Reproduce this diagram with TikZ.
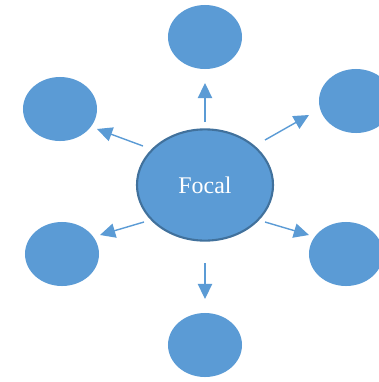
\documentclass[tikz,border=0pt]{standalone}
\usepackage{fontspec}
\setmainfont{Liberation Serif}
\usetikzlibrary{shapes.geometric,arrows.meta}

\definecolor{bubblefill}{HTML}{5B9BD5}
\definecolor{bubbleedge}{HTML}{41719C}

\tikzset{
	bubble/.style={ellipse, fill=bubblefill, inner sep=0pt,
		minimum width=1.85cm, minimum height=1.6cm},
	focalbubble/.style={ellipse, fill=bubblefill, draw=bubbleedge,
		line width=1.5pt, inner sep=0pt,
		minimum width=3.4cm, minimum height=2.78cm,
		text=white, font=\fontsize{17}{20}\selectfont},
	spoke/.style={-{Triangle[length=3.8mm, width=3.6mm]},
		line width=1pt, draw=bubblefill}
}

\begin{document}
\begin{tikzpicture}[x=0.025cm, y=-0.025cm]
	\useasboundingbox (0,0) rectangle (379,382);

	%% Bubbles
	\node[focalbubble] (focal) at (205,185) {Focal};
	\node[bubble] (top)    at (205,37)  {};
	\node[bubble] (bottom) at (205,345) {};
	\node[bubble] (ul)     at (60,109)  {};
	\node[bubble] (ur)     at (356,101) {};
	\node[bubble] (ll)     at (62,254)  {};
	\node[bubble] (lr)     at (346,254) {};

	%% Arrow ends
	\coordinate[](t1) at (205,122);
	\coordinate[](t2) at (205,83);
	\coordinate[](b1) at (205,263);
	\coordinate[](b2) at (205,299);
	\coordinate[](ul1) at (143,146);
	\coordinate[](ul2) at (97,129);
	\coordinate[](ur1) at (265,140);
	\coordinate[](ur2) at (309,115);
	\coordinate[](ll1) at (144,222);
	\coordinate[](ll2) at (100,235);
	\coordinate[](lr1) at (265,222);
	\coordinate[](lr2) at (309,235);

	%% Arrows
	\draw[spoke] (t1) -- (t2);
	\draw[spoke] (b1) -- (b2);
	\draw[spoke] (ul1) -- (ul2);
	\draw[spoke] (ur1) -- (ur2);
	\draw[spoke] (ll1) -- (ll2);
	\draw[spoke] (lr1) -- (lr2);

\end{tikzpicture}
\end{document}
